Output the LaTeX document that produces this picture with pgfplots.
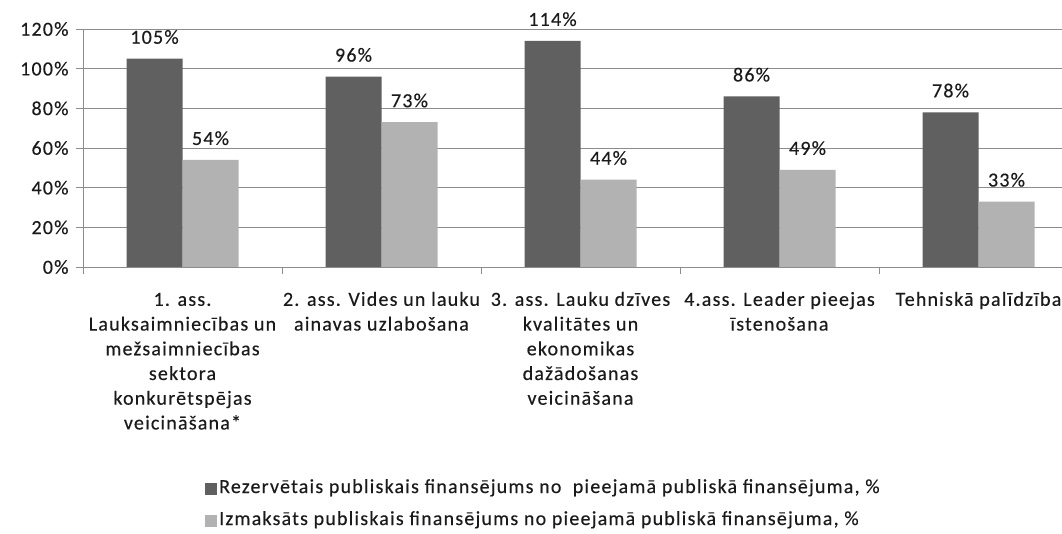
\documentclass[border=0pt]{standalone}
\usepackage{fontspec}
\setmainfont{Carlito}[LetterSpace=6,FakeBold=0.3]
\usepackage{pgfplots}
\pgfplotsset{compat=1.18}
\definecolor{darkbar}{HTML}{606060}
\definecolor{lightbar}{HTML}{B2B2B2}
\definecolor{gridc}{HTML}{8C8C8C}
\definecolor{txt}{HTML}{1A1A1A}
\newcommand{\cf}{\fontsize{20bp}{20.6bp}\selectfont}
\newcommand{\lb}[1]{\renewcommand{\arraystretch}{1.2}\begin{tabular}{@{}c@{}}#1\end{tabular}}
\begin{document}
\begin{tikzpicture}
\useasboundingbox (0,0) rectangle (1062bp,534bp);
\clip (0,0) rectangle (1062bp,534bp);
\begin{axis}[
  at={(83bp,267bp)}, anchor=south west,
  scale only axis, width=995bp, height=238bp,
  xmin=-0.5, xmax=4.5, ymin=0, ymax=120,
  ybar=0pt, bar width=56bp,
  ytick={0,20,...,120},
  yticklabel={\pgfmathprintnumber{\tick}\%},
  /pgf/number format/assume math mode=true,
  xtick={-0.5,0.5,...,4.5},
  xticklabels={{\lb{1. ass.\\Lauksaimniecības un\\mežsaimniecības\\sektora\\konkurētspējas\\veicināšana*}},
    {\lb{2. ass. Vides un lauku\\ainavas uzlabošana}},
    {\lb{3. ass. Lauku dzīves\\kvalitātes un\\ekonomikas\\dažādošanas\\veicināšana}},
    {\lb{4.ass. Leader pieejas\\īstenošana}},
    {\lb{Tehniskā palīdzība}}},
  x tick label as interval,
  xtick pos=bottom, ytick pos=left,
  tick align=outside, major tick length=7bp,
  tick style={draw=gridc, line width=0.8bp},
  axis line style={draw=gridc, line width=0.8bp},
  ymajorgrids, grid style={draw=gridc, line width=0.8bp},
  x tick label style={font=\cf, text=txt, anchor=north, yshift=-11bp},
  y tick label style={font=\cf, text=txt, xshift=-4bp},
  nodes near coords={\pgfmathprintnumber{\pgfplotspointmeta}\%},
  every node near coord/.append style={font=\cf, text=txt, anchor=base, yshift=15bp, inner sep=0pt},
  legend style={draw=none, fill=none, at={(0.1226,-0.998)}, anchor=west, inner sep=0pt,
    font=\cf, text=txt, row sep=9bp, cells={anchor=west},
    nodes={text height=14bp, text depth=5bp}},
  legend cell align=left,
  legend image code/.code={\fill[#1,draw=none] (0bp,-6bp) rectangle (12bp,6bp);},
]
\addplot[fill=darkbar, draw=none] coordinates {(0,105) (1,96) (2,114) (3,86) (4,78)};
\addlegendentry{Rezervētais publiskais finansējums no\ \ pieejamā publiskā finansējuma, \%}
\addplot[fill=lightbar, draw=none] coordinates {(0,54) (1,73) (2,44) (3,49) (4,33)};
\addlegendentry{Izmaksāts publiskais finansējums no pieejamā publiskā finansējuma, \%}
\end{axis}
\end{tikzpicture}
\end{document}
